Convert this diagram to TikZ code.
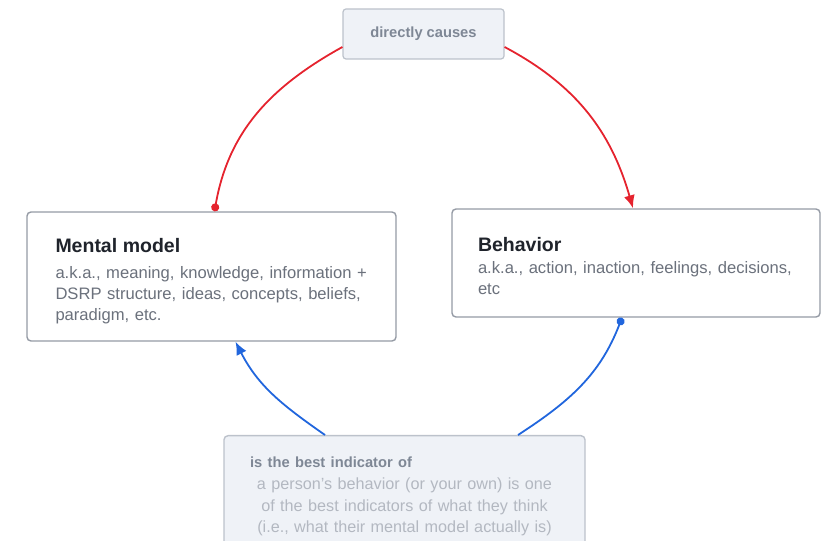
\documentclass[tikz,border=0pt]{standalone}
\usepackage{fontspec}
\setmainfont{Liberation Sans}
\usepackage{tikz}
\usetikzlibrary{positioning}
\usetikzlibrary{arrows.meta}
\tikzset{>={Latex[width=11pt,length=13pt]}}

\definecolor{boxline}{HTML}{959BA5}
\definecolor{tagline}{HTML}{BCC2CB}
\definecolor{tagfill}{HTML}{EFF2F7}
\definecolor{titletext}{HTML}{1F232B}
\definecolor{bodytext}{HTML}{6B717C}
\definecolor{tagtext}{HTML}{7E8795}
\definecolor{faint}{HTML}{B3B8C1}
\definecolor{causered}{HTML}{E5232E}
\definecolor{backblue}{HTML}{2166DD}

\newcommand{\boxtitle}[1]{{\fontsize{19.5}{21}\selectfont\bfseries\color{titletext}#1}}

\begin{document}
\begin{tikzpicture}[x=1pt, y=1pt,
    box/.style={rectangle, rounded corners=4pt, draw=boxline, line width=1.4pt, fill=white, align=left, inner xsep=26pt,
        font=\fontsize{16.6}{21}\selectfont, text=bodytext},
    tag/.style={rectangle, rounded corners=3pt, draw=tagline, line width=1.2pt, fill=tagfill, font=\fontsize{14.7}{17}\selectfont\bfseries, text=tagtext},
    link/.style={line width=1.8pt} ]

    \clip (0,0) rectangle (825,541);

    %Nodes
    \node[box, minimum width=369pt, minimum height=129pt, text width=312pt, inner xsep=28.5pt] (mental) at (211.5,264.5)
        {\boxtitle{\rule{0pt}{24pt}Mental model}\\[5pt]
         a.k.a., meaning, knowledge, information +\\
         DSRP structure, ideas, concepts, beliefs,\\ paradigm, etc.};
    \node[box, minimum width=368pt, minimum height=108pt, text width=316pt] (behavior) at (636,278)
        {\boxtitle{\rule{0pt}{20pt}Behavior}\\[1pt]
         a.k.a., action, inaction, feelings, decisions,\\ etc};
    \node[tag, minimum width=161pt, minimum height=50pt] (causes) at (423.5,507) {directly causes};
    \node[box, draw=tagline, fill=tagfill, minimum width=361pt, minimum height=121pt, text width=309pt, inner ysep=14pt,
        align=center, anchor=north, font=\fontsize{16.2}{21.5}\selectfont, text=faint] (indicator) at (404.5,106)
        {\makebox[309pt][l]{\fontsize{14.7}{20}\selectfont\bfseries\color{tagtext}is the best indicator of}\\[1pt]
         a person's behavior (or your own) is one\\
         of the best indicators of what they think\\ (i.e., what their mental model actually is)};

    %Lines
    \draw[link, causered, {Circle[length=8pt]}-] ([xshift=3pt]mental.north) to[out=80, in=209] ([yshift=-13pt]causes.west);
    \draw[link, causered, ->] ([yshift=-13pt]causes.east) to[out=-28, in=106] ([xshift=-3pt]behavior.north);
    \draw[link, backblue, {Circle[length=8pt]}-] ([xshift=-14pt]behavior.south) to[out=249, in=33] ([xshift=113.5pt]indicator.north);
    \draw[link, backblue, ->] ([xshift=-79.5pt]indicator.north) to[out=145, in=-63] ([xshift=24pt]mental.south);
\end{tikzpicture}
\end{document}
